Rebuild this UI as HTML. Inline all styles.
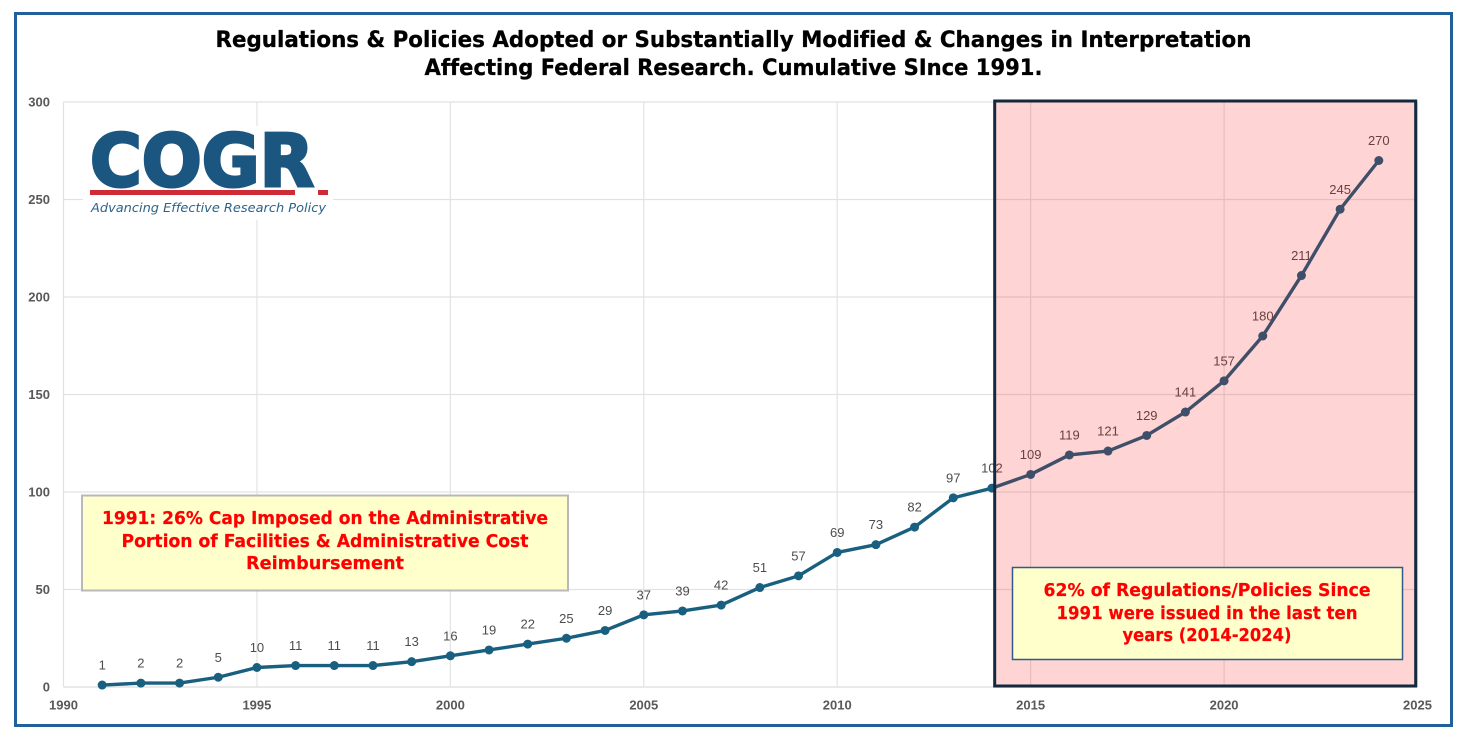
<!DOCTYPE html>
<html lang="en">
<head>
<meta charset="utf-8">
<title>Regulations &amp; Policies Cumulative Since 1991</title>
<style>
html,body{margin:0;padding:0;background:#fff;}
body{width:1467px;height:739px;overflow:hidden;}
svg{display:block;}
text{font-family:"Liberation Sans",sans-serif;font-variant-ligatures:none;}
.wide{font-family:"DejaVu Sans","Liberation Sans",sans-serif;}
</style>
</head>
<body>
<svg id="chart" width="1467" height="739" viewBox="0 0 1467 739" xmlns="http://www.w3.org/2000/svg">
  <rect x="0" y="0" width="1467" height="739" fill="#ffffff"/>
  <rect x="15.5" y="13.5" width="1436" height="712" fill="#ffffff" stroke="#22609c" stroke-width="3"/>
  <g fill="#000000" font-weight="700" font-size="22" text-anchor="middle" class="wide" stroke="#000000" stroke-width="0.3">
    <text class="wide" x="733.500" y="47" textLength="1036" lengthAdjust="spacingAndGlyphs">Regulations &amp; Policies Adopted or Substantially Modified &amp; Changes in Interpretation</text>
    <text class="wide" x="733.500" y="75" textLength="618" lengthAdjust="spacingAndGlyphs">Affecting Federal Research. Cumulative SInce 1991.</text>
  </g>
  <g id="grid"></g>
  <g id="yticks"></g>
  <g id="xticks"></g>
  <g id="series"></g>
  <g id="labels"></g>

  <g>
    <rect x="83" y="126" width="250" height="94" fill="#ffffff"/>
    <text class="wide" x="90" y="186" font-size="72" font-weight="700" fill="#1b5680" stroke="#1b5680" stroke-width="3" textLength="224" lengthAdjust="spacingAndGlyphs">COGR</text>
    <rect x="90" y="190" width="205" height="5" fill="#cf2b36"/>
    <rect x="318" y="190" width="10" height="5" fill="#cf2b36"/>
    <text class="wide" x="91" y="212" font-size="12" font-style="italic" fill="#2d6288" textLength="235" lengthAdjust="spacingAndGlyphs">Advancing Effective Research Policy</text>
  </g>

  <rect x="994.700" y="101" width="421" height="585" fill="#ff0000" fill-opacity="0.17" stroke="#12293f" stroke-width="3"/>

  <g>
    <rect x="82" y="495.500" width="486" height="95" fill="#ffffcc" stroke="#b9b9b9" stroke-width="2"/>
    <g fill="#ff0000" font-size="17.500" font-weight="700" text-anchor="middle" class="wide" stroke="#ff0000" stroke-width="0.2">
      <text class="wide" x="325" y="524" textLength="446" lengthAdjust="spacingAndGlyphs">1991:  26% Cap Imposed on the Administrative</text>
      <text class="wide" x="325" y="547" textLength="407" lengthAdjust="spacingAndGlyphs">Portion of Facilities &amp; Administrative Cost</text>
      <text class="wide" x="325" y="569" textLength="158" lengthAdjust="spacingAndGlyphs">Reimbursement</text>
    </g>
  </g>

  <g>
    <rect x="1012.500" y="567.500" width="390" height="92" fill="#ffffcc" stroke="#2f5a8a" stroke-width="1.500"/>
    <g fill="#ff0000" font-size="17.500" font-weight="700" text-anchor="middle" class="wide" stroke="#ff0000" stroke-width="0.2">
      <text class="wide" x="1207" y="596" textLength="327" lengthAdjust="spacingAndGlyphs">62% of Regulations/Policies Since</text>
      <text class="wide" x="1207" y="619" textLength="301" lengthAdjust="spacingAndGlyphs">1991 were issued in the last ten</text>
      <text class="wide" x="1207" y="641" textLength="169" lengthAdjust="spacingAndGlyphs">years (2014-2024)</text>
    </g>
  </g>
</svg>
<script>
const years = [1991,1992,1993,1994,1995,1996,1997,1998,1999,2000,2001,2002,2003,2004,2005,2006,2007,2008,2009,2010,2011,2012,2013,2014,2015,2016,2017,2018,2019,2020,2021,2022,2023,2024];
const cumulativeCounts = [1,2,2,5,10,11,11,11,13,16,19,22,25,29,37,39,42,51,57,69,73,82,97,102,109,119,121,129,141,157,180,211,245,270];
const xTickLabels = [1990,1995,2000,2005,2010,2015,2020,2025];
const yTickLabels = [0,50,100,150,200,250,300];

const NS = 'http://www.w3.org/2000/svg';
const plot = {left:63.5, right:1417.5, top:102, bottom:687, xMin:1990, xMax:2025, yMin:0, yMax:300};
function xScale(v){ return plot.left + (v - plot.xMin) / (plot.xMax - plot.xMin) * (plot.right - plot.left); }
function yScale(v){ return plot.bottom - (v - plot.yMin) / (plot.yMax - plot.yMin) * (plot.bottom - plot.top); }
function make(tag, attrs, parent, txt){
  const el = document.createElementNS(NS, tag);
  for (const k in attrs) el.setAttribute(k, attrs[k]);
  if (txt !== undefined) el.textContent = txt;
  parent.appendChild(el);
  return el;
}
const grid = document.getElementById('grid');
const yG = document.getElementById('yticks');
const xG = document.getElementById('xticks');
const seriesG = document.getElementById('series');
const labelsG = document.getElementById('labels');

yTickLabels.forEach(function(t){
  const line = make('line', {x1:plot.left, x2:plot.right, y1:yScale(t), y2:yScale(t), stroke:'#e2e2e2', 'stroke-width':t === 0 ? 1.5 : 1.2}, grid);
  
  
  const lab = make('text', {x:50, y:yScale(t) + 4.5, 'text-anchor':'end', 'font-size':13, 'font-weight':700, fill:'#595959'}, yG, t);
  
  
});
xTickLabels.forEach(function(t){
  const line = make('line', {x1:xScale(t), x2:xScale(t), y1:plot.top, y2:plot.bottom, stroke:'#e2e2e2', 'stroke-width':1.2}, grid);
  
  
  const lab = make('text', {x:xScale(t), y:709.5, 'text-anchor':'middle', 'font-size':13, 'font-weight':700, fill:'#595959'}, xG, t);
  
  
});

const pts = years.map(function(y, i){ return xScale(y) + ',' + yScale(cumulativeCounts[i]); }).join(' ');
const poly = make('polyline', {points:pts, fill:'none', stroke:'#196080', 'stroke-width':3.4, 'stroke-linejoin':'round', 'stroke-linecap':'round'}, seriesG);



years.forEach(function(y, i){
  const v = cumulativeCounts[i];
  const c = make('circle', {cx:xScale(y), cy:yScale(v), r:4.5, fill:'#196080'}, seriesG);
  
  
  const t = make('text', {x:xScale(y), y:yScale(v) - 15.5, 'text-anchor':'middle', 'font-size':13, fill:'#4d4d4d'}, labelsG, v);
  
  
});
</script>
</body>
</html>
